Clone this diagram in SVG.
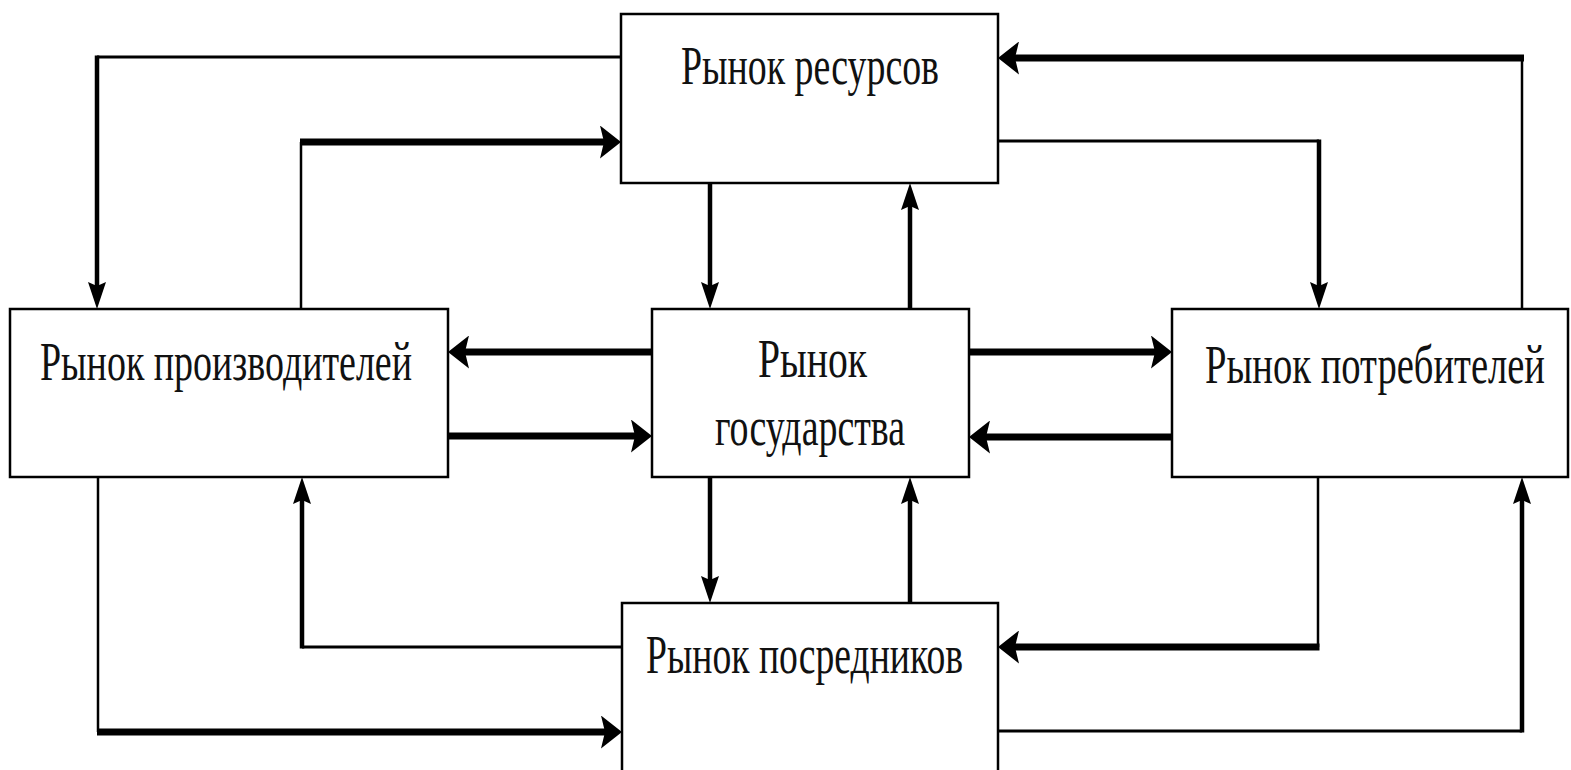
<svg xmlns="http://www.w3.org/2000/svg" width="1571" height="770" viewBox="0 0 1571 770">
<style>
  .box { fill: #ffffff; stroke: #000000; stroke-width: 2.5; }
  .lbl { font-family: "Liberation Serif", "Times New Roman", serif; font-size: 36px; fill: #111111; }
  .thin { fill: none; stroke: #000000; stroke-width: 2.5; }
  .thinh { fill: none; stroke: #000000; stroke-width: 3; }
  .thickh { fill: none; stroke: #000000; stroke-width: 7; marker-end: url(#ah); }
  .thickv { fill: none; stroke: #000000; stroke-width: 4.5; marker-end: url(#av); }
</style>
<defs>
  <marker id="ah" markerUnits="userSpaceOnUse" markerWidth="21" markerHeight="33" viewBox="0 0 21 33" refX="8" refY="16.5" orient="auto">
    <path d="M0,0 L21,16.5 L0,33 L4,16.5 Z" fill="#000000"/>
  </marker>
  <marker id="av" markerUnits="userSpaceOnUse" markerWidth="27" markerHeight="18" viewBox="0 0 27 18" refX="10" refY="9" orient="auto">
    <path d="M0,0 L27,9 L0,18 L4,9 Z" fill="#000000"/>
  </marker>
</defs>
<rect width="1571" height="770" fill="#ffffff"/>

<g id="connectors">
  <!-- resources -> producers -->
  <path class="thinh" d="M621,57 H97"/>
  <path class="thickv" d="M97,55.5 V292"/>
  <!-- producers -> resources -->
  <path class="thin" d="M301,309 V142"/>
  <path class="thickh" d="M300,142 H608"/>
  <!-- consumers -> resources -->
  <path class="thin" d="M1522,309 V58"/>
  <path class="thickh" d="M1524,58 H1011"/>
  <!-- resources -> consumers -->
  <path class="thinh" d="M998,141 H1319"/>
  <path class="thickv" d="M1319,139.5 V292"/>
  <!-- resources <-> state -->
  <path class="thickv" d="M710,183 V292"/>
  <path class="thickv" d="M910,309 V200"/>
  <!-- state <-> producers -->
  <path class="thickh" d="M652,352 H461"/>
  <path class="thickh" d="M448,436 H639"/>
  <!-- state <-> consumers -->
  <path class="thickh" d="M969,352 H1159"/>
  <path class="thickh" d="M1172,437 H982"/>
  <!-- state <-> intermediaries -->
  <path class="thickv" d="M710,477 V586"/>
  <path class="thickv" d="M910,603 V494"/>
  <!-- producers -> intermediaries -->
  <path class="thin" d="M98,477 V732"/>
  <path class="thickh" d="M97,732 H609"/>
  <!-- intermediaries -> producers -->
  <path class="thinh" d="M622,647 H302"/>
  <path class="thickv" d="M302,648.5 V494"/>
  <!-- consumers -> intermediaries -->
  <path class="thin" d="M1318,477 V647"/>
  <path class="thickh" d="M1319.5,647 H1011"/>
  <!-- intermediaries -> consumers -->
  <path class="thinh" d="M998,731 H1522"/>
  <path class="thickv" d="M1522,732.5 V494"/>
</g>

<g id="node-resources">
  <rect class="box" x="621" y="14" width="377" height="169"/>
  <text class="lbl" transform="translate(681,84) scale(1,1.5)" x="0" y="0" textLength="258" lengthAdjust="spacingAndGlyphs">Рынок ресурсов</text>
</g>
<g id="node-producers">
  <rect class="box" x="10" y="309" width="438" height="168"/>
  <text class="lbl" transform="translate(40,380) scale(1,1.5)" x="0" y="0" textLength="372" lengthAdjust="spacingAndGlyphs">Рынок производителей</text>
</g>
<g id="node-state">
  <rect class="box" x="652" y="309" width="317" height="168"/>
  <text class="lbl" transform="translate(758,377) scale(1,1.5)" x="0" y="0" textLength="109" lengthAdjust="spacingAndGlyphs">Рынок</text>
  <text class="lbl" transform="translate(715,445) scale(1,1.5)" x="0" y="0" textLength="190" lengthAdjust="spacingAndGlyphs">государства</text>
</g>
<g id="node-consumers">
  <rect class="box" x="1172" y="309" width="396" height="168"/>
  <text class="lbl" transform="translate(1205,383) scale(1,1.5)" x="0" y="0" textLength="340" lengthAdjust="spacingAndGlyphs">Рынок потребителей</text>
</g>
<g id="node-intermediaries">
  <rect class="box" x="622" y="603" width="376" height="172"/>
  <text class="lbl" transform="translate(646,673) scale(1,1.5)" x="0" y="0" textLength="317" lengthAdjust="spacingAndGlyphs">Рынок посредников</text>
</g>
</svg>
